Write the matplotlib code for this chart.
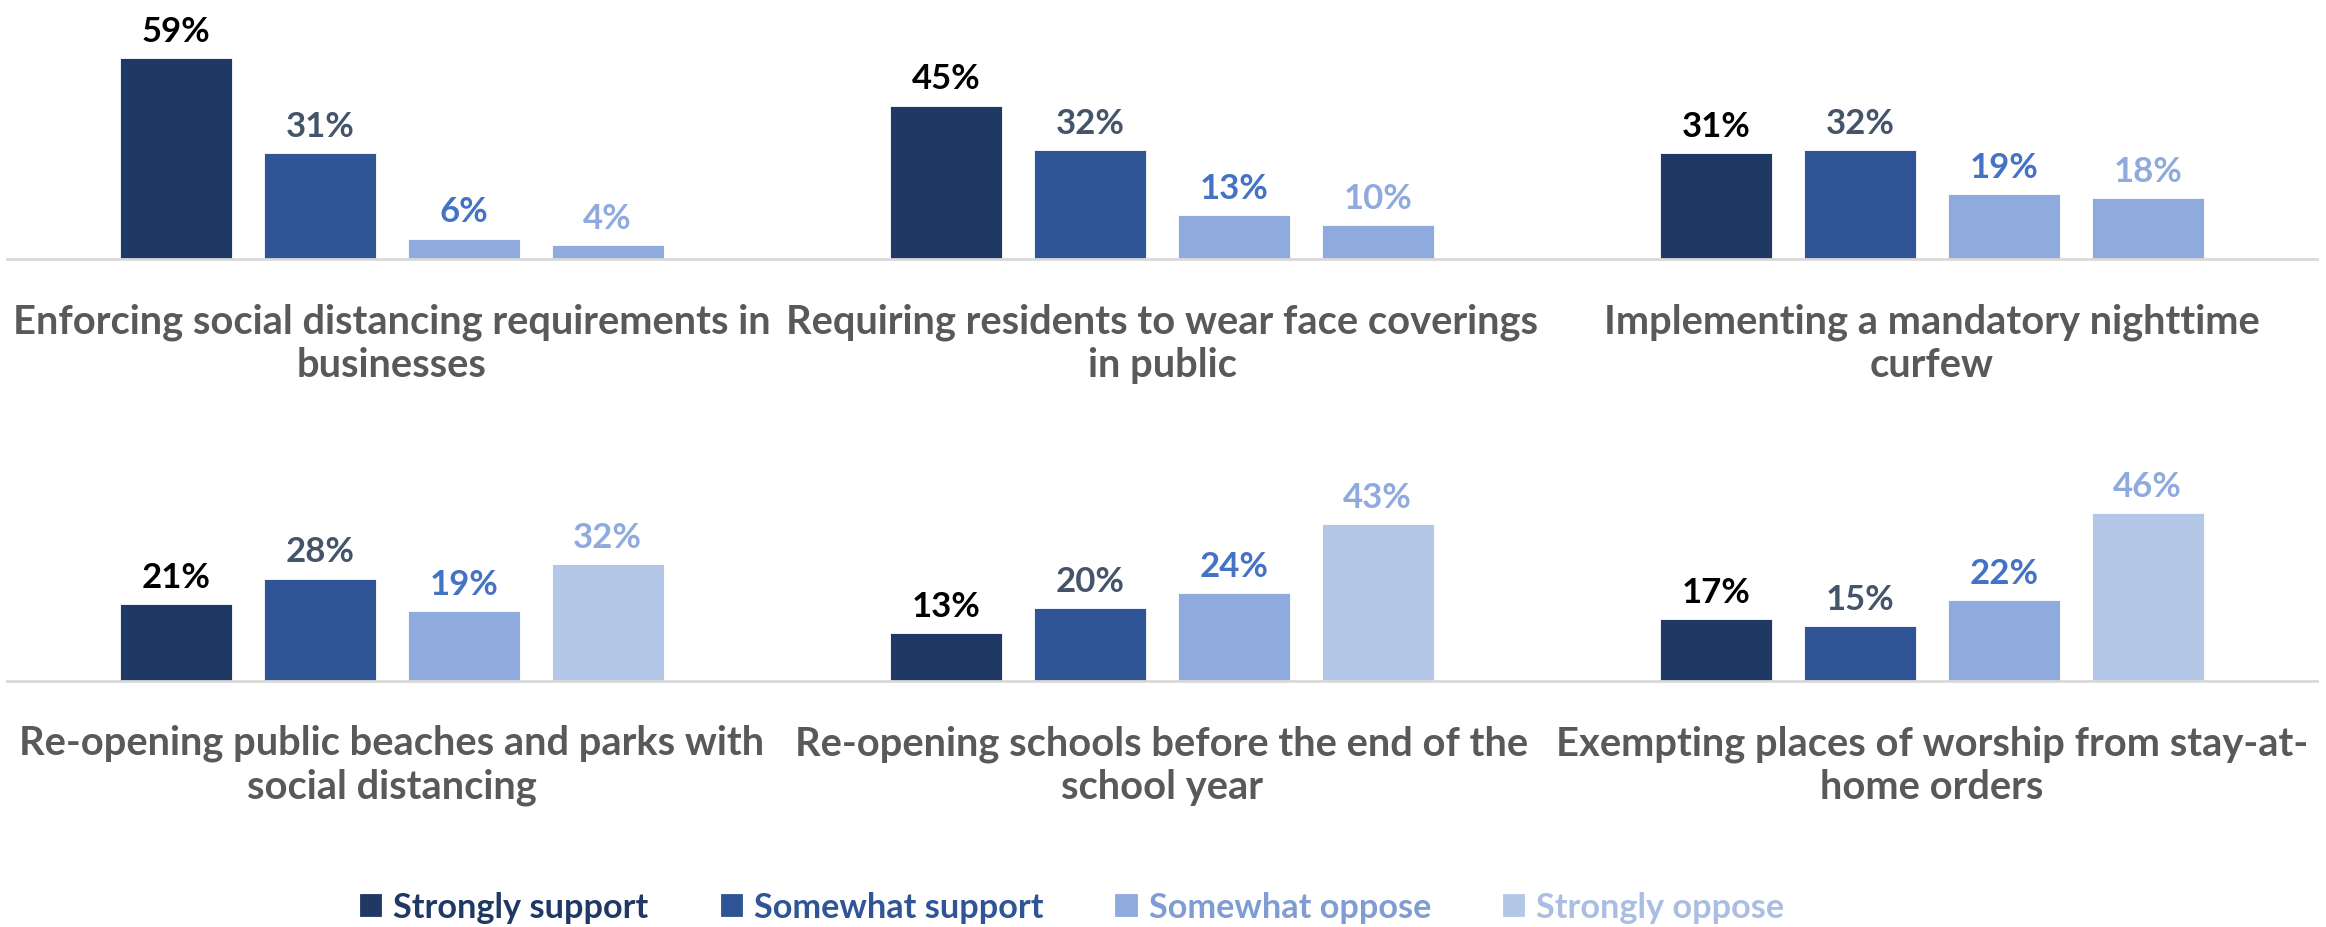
import matplotlib.pyplot as plt
import numpy as np

plt.rcParams['font.family'] = ['Lato', 'DejaVu Sans']

# Survey data
questions = [
    "Enforcing social distancing requirements in\nbusinesses",
    "Requiring residents to wear face coverings\nin public",
    "Implementing a mandatory nighttime\ncurfew",
    "Re-opening public beaches and parks with\nsocial distancing",
    "Re-opening schools before the end of the\nschool year",
    "Exempting places of worship from stay-at-\nhome orders",
]
series_names = ["Strongly support", "Somewhat support", "Somewhat oppose", "Strongly oppose"]
strongly_support = [59, 45, 31, 21, 13, 17]
somewhat_support = [31, 32, 32, 28, 20, 15]
somewhat_oppose = [6, 13, 19, 19, 24, 22]
strongly_oppose = [4, 10, 18, 32, 43, 46]

bar_colors_top = ['#203864', '#2F5597', '#8FAADC', '#8FAADC']
bar_colors_bottom = ['#203864', '#2F5597', '#8FAADC', '#B4C7E7']
value_colors = ['#000000', '#44546A', '#4472C4', '#8FAADC']
legend_colors = ['#203864', '#2F5597', '#7F9DD4', '#A9BEE2']

W, H = 2326, 928
fig = plt.figure(figsize=(W / 100, H / 100), dpi=100)

# axes layout in pixels: (top, baseline, px per percent)
rows = [(0, 260, 3.41), (420, 682, 3.66)]
panel_w = 770
x0 = 7

x = np.arange(4)
width = 0.78
handles = None
for k in range(6):
    r, c = divmod(k, 3)
    top, base, scale = rows[r]
    ax = fig.add_axes([(x0 + c * panel_w) / W, (H - base) / H,
                       panel_w / W, (base - top) / H])
    vals = [strongly_support[k], somewhat_support[k], somewhat_oppose[k], strongly_oppose[k]]
    colors = bar_colors_top if r == 0 else bar_colors_bottom
    bars = ax.bar(x, vals, width=width, color=colors, edgecolor='white', linewidth=0.6)
    if k == 3:
        handles = bars
    for b, v, col in zip(bars, vals, value_colors):
        ax.annotate(f"{v}%", (b.get_x() + b.get_width() / 2, v),
                    xytext=(0, 8), textcoords='offset points',
                    ha='center', va='bottom', fontsize=25, fontweight='bold', color=col)
    ax.set_xlim(-1.177, 4.177)
    ax.set_ylim(0, (base - top) / scale)
    for s in ['top', 'left', 'right']:
        ax.spines[s].set_visible(False)
    ax.spines['bottom'].set_color('#D9D9D9')
    ax.spines['bottom'].set_linewidth(2)
    ax.set_xticks([])
    ax.set_yticks([])
    ax.annotate(questions[k], (0.5, 0), xycoords='axes fraction',
                xytext=(0, -60), textcoords='offset points',
                ha='center', va='center', fontsize=28.7, fontweight='bold',
                color='#595959', linespacing=1.2)

leg = fig.legend(handles, series_names, loc='center', bbox_to_anchor=(0.461, 0.0216),
                 ncol=4, frameon=False, handlelength=0.62, handleheight=0.62,
                 handletextpad=0.35, columnspacing=2.1, labelcolor=legend_colors,
                 prop={'weight': 'bold', 'size': 24.7})
for h, col in zip(leg.legend_handles, bar_colors_bottom):
    h.set_facecolor(col)
    h.set_edgecolor(col)

fig.savefig('out.png', dpi=100)
